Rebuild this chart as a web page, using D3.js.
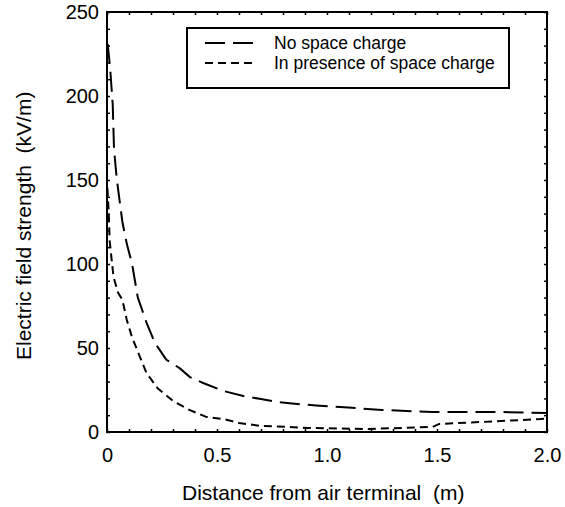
<!DOCTYPE html>
<html>
<head>
<meta charset="utf-8">
<script src="https://cdn.jsdelivr.net/npm/d3@7"></script>
<style>
  body { margin: 0; background: #fff; }
  svg { display: block; font-family: "Liberation Sans", Arial, sans-serif; }
</style>
</head>
<body>
<svg></svg>
<script>
// distance from air terminal (m) and field (kV/m)
const noChargeX = [0.003, 0.014, 0.026, 0.032, 0.045, 0.07, 0.09, 0.114, 0.14, 0.18, 0.218, 0.27, 0.33, 0.377, 0.44, 0.53, 0.62, 0.70, 0.77, 0.88, 0.95, 1.06, 1.25, 1.48, 1.79, 2.0];
const noChargeY = [231, 217, 195, 168, 150, 125, 112, 100, 80, 65, 53, 43, 38, 32.7, 29, 24.4, 21.4, 19.6, 17.9, 16.5, 15.8, 14.9, 13.1, 11.9, 11.9, 11.3];

const chargeX = [0.002, 0.004, 0.008, 0.012, 0.02, 0.03, 0.05, 0.07, 0.09, 0.113, 0.15, 0.18, 0.23, 0.30, 0.377, 0.45, 0.53, 0.60, 0.70, 0.82, 0.91, 1.18, 1.48, 1.51, 1.71, 1.97, 2.0];
const chargeY = [145, 140, 130, 114, 104, 92, 83, 78.6, 66.7, 56.7, 44.6, 35, 26, 18.5, 13, 9, 7.7, 5.4, 3.6, 3, 2.4, 1.8, 3, 4.8, 6, 7.7, 8];

const seriesNames = ["No space charge", "In presence of space charge"];
const xLabelTicks = [0, 0.5, 1.0, 1.5, 2.0];
const yLabelTicks = [0, 50, 100, 150, 200, 250];

const width = 565;
const height = 507;
const margin = { top: 12, right: 18, bottom: 75, left: 107 };
const chartWidth = width - margin.left - margin.right;
const chartHeight = height - margin.top - margin.bottom;

const svg = d3.select("svg")
    .attr("width", width)
    .attr("height", height);

const g = svg.append("g")
    .attr("transform", `translate(${margin.left},${margin.top})`);

const x = d3.scaleLinear().domain([0, 2]).range([0, chartWidth]);
const y = d3.scaleLinear().domain([0, 250]).range([chartHeight, 0]);

const xMinor = d3.range(0, 21).map(i => i / 10);
const yMinor = d3.range(0, 26).map(i => i * 10);

const isXLabel = d => xLabelTicks.some(t => Math.abs(t - d) < 1e-9);
const isYLabel = d => yLabelTicks.includes(d);

const fmtX = d => isXLabel(d) ? (d === 0 ? "0" : d3.format(".1f")(d)) : "";
const fmtY = d => isYLabel(d) ? d : "";

function styleAxis(sel) {
    sel.select(".domain").remove();
    sel.selectAll(".tick line").attr("stroke", "#000").attr("stroke-width", 1.5);
    sel.selectAll(".tick text").attr("fill", "#000").style("font-size", "20px");
}

g.append("g")
    .attr("transform", `translate(0,${chartHeight})`)
    .call(d3.axisBottom(x).tickValues(xMinor).tickSize(-3).tickPadding(16).tickFormat(fmtX))
    .call(styleAxis);

g.append("g")
    .call(d3.axisTop(x).tickValues(xMinor).tickSize(-3).tickFormat(""))
    .call(styleAxis);

g.append("g")
    .call(d3.axisLeft(y).tickValues(yMinor).tickSize(-3).tickPadding(8).tickFormat(fmtY))
    .call(styleAxis);

g.append("g")
    .attr("transform", `translate(${chartWidth},0)`)
    .call(d3.axisRight(y).tickValues(yMinor).tickSize(-3).tickFormat(""))
    .call(styleAxis);

// frame
g.append("rect")
    .attr("width", chartWidth)
    .attr("height", chartHeight)
    .attr("fill", "none")
    .attr("stroke", "#000")
    .attr("stroke-width", 2);

const line = d3.line()
    .x(d => x(d[0]))
    .y(d => y(d[1]));

const dashes = ["20,8", "8,5"];

g.append("path")
    .datum(noChargeX.map((d, i) => [d, noChargeY[i]]))
    .attr("d", line)
    .attr("fill", "none")
    .attr("stroke", "#000")
    .attr("stroke-width", 2)
    .attr("stroke-dasharray", dashes[0]);

g.append("path")
    .datum(chargeX.map((d, i) => [d, chargeY[i]]))
    .attr("d", line)
    .attr("fill", "none")
    .attr("stroke", "#000")
    .attr("stroke-width", 2)
    .attr("stroke-dasharray", dashes[1]);

// legend
const legend = svg.append("g").attr("transform", "translate(187,28)");
legend.append("rect")
    .attr("width", 322)
    .attr("height", 60)
    .attr("fill", "#fff")
    .attr("stroke", "#000")
    .attr("stroke-width", 2);

seriesNames.forEach((name, i) => {
    const row = legend.append("g").attr("transform", `translate(0,${15 + i * 20})`);
    row.append("line")
        .attr("x1", 18).attr("x2", 68)
        .attr("stroke", "#000")
        .attr("stroke-width", 1.8)
        .attr("stroke-dasharray", dashes[i]);
    row.append("text")
        .attr("x", 87)
        .attr("y", 5.5)
        .style("font-size", "17.5px")
        .text(name);
});

// axis titles
svg.append("text")
    .attr("x", 182)
    .attr("y", 500)
    .style("font-size", "21px")
    .style("white-space", "pre")
    .text("Distance from air terminal  (m)");

svg.append("text")
    .attr("transform", "translate(31,360) rotate(-90)")
    .style("font-size", "21px")
    .style("white-space", "pre")
    .text("Electric field strength  (kV/m)");
</script>
</body>
</html>
